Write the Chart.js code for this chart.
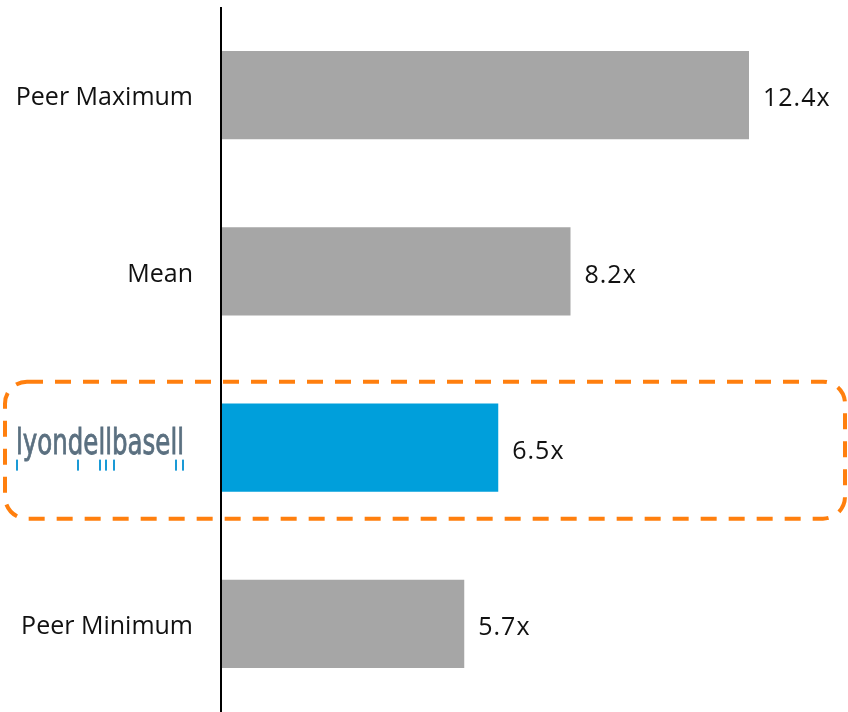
<!DOCTYPE html>
<html>
<head>
<meta charset="utf-8">
<script src="https://cdn.jsdelivr.net/npm/chart.js@4.4.1/dist/chart.umd.min.js"></script>
<style>
  html, body { margin: 0; padding: 0; background: #ffffff; }
  #wrap { width: 848px; height: 712px; position: relative; }
</style>
</head>
<body>
<div id="wrap"><canvas id="chart"></canvas></div>
<script>
// EV / EBITDA multiples
const categories = ["Peer Maximum", "Mean", "lyondellbasell", "Peer Minimum"];
const multiples = [12.4, 8.2, 6.5, 5.7];
const highlightIndex = 2;

const GREY = "#a6a6a6";
const BLUE = "#009fdb";
const ORANGE = "#ff7f0e";
const FONT = "'Open Sans', 'Noto Sans', sans-serif";

// Draws the company wordmark in place of the highlighted tick label,
// the dashed call-out box, the vertical baseline and the value labels.
const decorations = {
  id: "decorations",
  afterDatasetsDraw(chart) {
    const ctx = chart.ctx;
    const area = chart.chartArea;
    const y = chart.scales.y;
    const meta = chart.getDatasetMeta(0);

    // baseline
    ctx.save();
    ctx.fillStyle = "#000000";
    ctx.fillRect(area.left - 2, area.top, 2, chart.height - area.top);
    ctx.restore();

    // value labels
    ctx.save();
    ctx.font = "25px " + FONT;
    ctx.letterSpacing = "1px";
    ctx.fillStyle = "#111111";
    ctx.textAlign = "left";
    ctx.textBaseline = "middle";
    meta.data.forEach((bar, i) => {
      ctx.fillText(multiples[i].toFixed(1) + "x", bar.x + 14, bar.y + 4);
    });
    ctx.restore();

    // wordmark
    const cy = y.getPixelForValue(highlightIndex);
    ctx.save();
    ctx.font = "36px 'Liberation Sans Narrow', 'DejaVu Sans Condensed', sans-serif";
    ctx.fillStyle = "#5b7080";
    ctx.strokeStyle = "#5b7080";
    ctx.lineWidth = 0.8;
    ctx.textBaseline = "alphabetic";
    const word = categories[highlightIndex];
    const w = ctx.measureText(word).width;
    const targetW = 168;
    ctx.translate(16, cy + 6);
    ctx.scale(targetW / w, 1);
    ctx.fillText(word, 0, 0);
    ctx.strokeText(word, 0, 0);
    ctx.restore();

    ctx.save();
    ctx.fillStyle = "#1a9ad6";
    [16, 77, 99, 105, 113, 175, 182].forEach(x => {
      ctx.fillRect(x, cy + 12, 2, 11);
    });
    ctx.restore();

    // dashed call-out
    ctx.save();
    ctx.strokeStyle = ORANGE;
    ctx.lineWidth = 4;
    ctx.setLineDash([16, 12]);
    ctx.beginPath();
    ctx.roundRect(5, cy - 66, 840, 137, 22);
    ctx.stroke();
    ctx.restore();
  }
};

new Chart(document.getElementById("chart"), {
  type: "bar",
  data: {
    labels: categories,
    datasets: [{
      data: multiples,
      backgroundColor: multiples.map((_, i) => i === highlightIndex ? BLUE : GREY),
      borderWidth: 0,
      categoryPercentage: 1.0,
      barPercentage: 0.5
    }]
  },
  options: {
    indexAxis: "y",
    responsive: true,
    maintainAspectRatio: false,
    animation: false,
    layout: { padding: { top: 7, right: 31, bottom: -2, left: 0 } },
    plugins: {
      legend: { display: false },
      tooltip: { enabled: false }
    },
    scales: {
      x: {
        min: 0,
        max: 14,
        display: false
      },
      y: {
        grid: { display: false, drawTicks: false },
        border: { display: false },
        afterFit(scale) {
          scale.width = 222;
          scale.paddingTop = 0;
          scale.paddingBottom = 0;
        },
        ticks: {
          padding: 29,
          labelOffset: 3,
          color: "#111111",
          font: { family: FONT, size: 25 },
          callback(value, index) {
            return index === highlightIndex ? "" : categories[index];
          }
        }
      }
    }
  },
  plugins: [decorations]
});
</script>
</body>
</html>
